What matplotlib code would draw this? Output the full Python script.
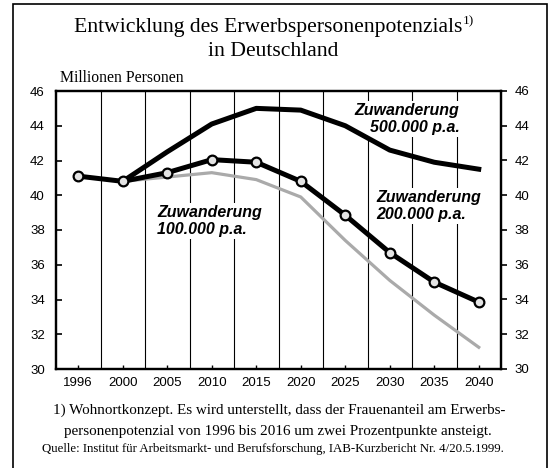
import numpy as np
import matplotlib.pyplot as plt
from matplotlib.patches import Rectangle

# Daten (Millionen Personen)
jahre = ['1996', '2000', '2005', '2010', '2015', '2020', '2025', '2030', '2035', '2040']
zuw_500 = [41.1, 40.8, 42.5, 44.1, 45.0, 44.9, 44.0, 42.6, 41.9, 41.5]
zuw_200 = [41.1, 40.8, 41.3, 42.05, 41.9, 40.8, 38.85, 36.7, 35.0, 33.85]
zuw_100 = [np.nan, 40.8, 41.05, 41.3, 40.9, 39.9, 37.4, 35.1, 33.1, 31.25]
y_ticks = [30, 32, 34, 36, 38, 40, 42, 44, 46]

W, H = 550, 468
serif = 'Liberation Serif'
sans = 'Liberation Sans'

fig = plt.figure(figsize=(W / 100, H / 100), dpi=100)

def px(x, y):
    # Pixelkoordinaten -> Figurkoordinaten
    return x / W, 1 - y / H

# Rahmen um die ganze Grafik
fig.add_artist(Rectangle(px(13, 480), (547 - 13) / W, (480 - 4) / H,
                         transform=fig.transFigure, fill=False,
                         edgecolor='black', linewidth=1.2))

ax = fig.add_axes([56 / W, 1 - 369 / H, (501 - 56) / W, (369 - 91) / H])
x = np.arange(len(jahre))

# senkrechte Trennlinien zwischen den Jahren
for b in x[:-1] + 0.5:
    ax.axvline(b, color='black', linewidth=0.8, zorder=1)

ax.plot(x, zuw_100, color='#aaaaaa', linewidth=2.3, zorder=3)
ax.plot(x[1:], zuw_500[1:], color='black', linewidth=3.6,
        solid_joinstyle='round', zorder=4)
ax.plot(x, zuw_200, color='black', linewidth=3.6, marker='o', markersize=7,
        markerfacecolor='#e4e4e4', markeredgecolor='black', markeredgewidth=1.6,
        solid_joinstyle='round', zorder=5)

ax.set_xlim(-0.5, len(jahre) - 0.5)
ax.set_ylim(30, 46)
ax.set_xticks(x)
ax.set_xticklabels(jahre, fontfamily=sans, fontsize=9.5)
ax.set_yticks(y_ticks)
ax.set_yticklabels([str(v) for v in y_ticks], fontfamily=sans, fontsize=9.5)
ax.tick_params(axis='x', direction='in', length=3, width=1, pad=6)
ax.tick_params(axis='y', direction='in', length=4, width=1.2, pad=8)
for s in ax.spines.values():
    s.set_linewidth(1.6)

# rechte Skala mit Strichen nach aussen
ax2 = ax.twinx()
ax2.set_ylim(30, 46)
ax2.set_yticks(y_ticks)
ax2.set_yticklabels([str(v) for v in y_ticks], fontfamily=sans, fontsize=9.5)
ax2.tick_params(axis='y', direction='out', length=4, width=1.2, pad=6)
for s in ax2.spines.values():
    s.set_linewidth(1.6)

box = dict(facecolor='white', edgecolor='none', pad=1.5)
tfont = dict(fontfamily=sans, fontsize=11.5, fontweight='bold', fontstyle='italic')
ax.text(8.57, 44.37, 'Zuwanderung\n500.000 p.a.', ha='right', va='center',
        multialignment='right', bbox=box, zorder=2, linespacing=1.15, **tfont)
ax.text(6.69, 39.37, 'Zuwanderung\n200.000 p.a.', ha='left', va='center',
        multialignment='left', bbox=box, zorder=2, linespacing=1.15, **tfont)
ax.text(1.77, 38.5, 'Zuwanderung\n100.000 p.a.', ha='left', va='center',
        multialignment='left', bbox=box, zorder=2, linespacing=1.15, **tfont)

# Titel
t1 = fig.text(*px(268, 32), 'Entwicklung des Erwerbspersonenpotenzials',
              ha='center', va='baseline', fontfamily=serif, fontsize=15.6)
fig.canvas.draw()
bb = t1.get_window_extent()
fig.text(bb.x1 / W + 1 / W, 1 - 24 / H, '1)', ha='left', va='baseline',
         fontfamily=serif, fontsize=9.5)
fig.text(*px(273, 56), 'in Deutschland', ha='center', va='baseline',
         fontfamily=serif, fontsize=15.6)

fig.text(*px(60, 78), 'Millionen Personen', ha='left', va='center',
         fontfamily=serif, fontsize=11.3)

# Fussnote und Quelle
fig.text(*px(279, 410), '1) Wohnortkonzept. Es wird unterstellt, dass der Frauenanteil am Erwerbs-',
         ha='center', va='center', fontfamily=serif, fontsize=10.9)
fig.text(*px(278, 431), 'personenpotenzial von 1996 bis 2016 um zwei Prozentpunkte ansteigt.',
         ha='center', va='center', fontfamily=serif, fontsize=10.9)
fig.text(*px(273, 449), 'Quelle: Institut für Arbeitsmarkt- und Berufsforschung, IAB-Kurzbericht Nr. 4/20.5.1999.',
         ha='center', va='center', fontfamily=serif, fontsize=9.3)

fig.savefig('out.png', dpi=100)
